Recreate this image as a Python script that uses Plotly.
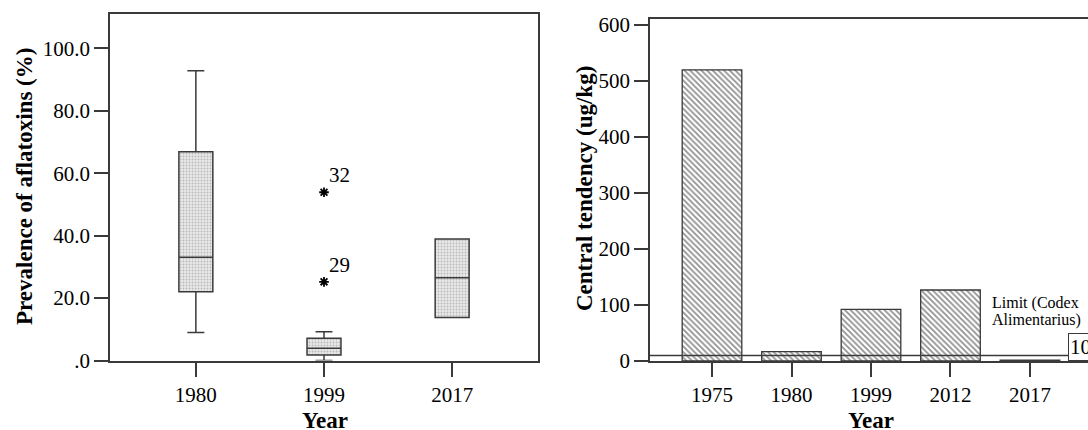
import plotly.graph_objects as go

W, H = 1088, 430

# ---------------- data ----------------
# Left panel: prevalence of aflatoxins (%) box plot summary
box_years = ["1980", "1999", "2017"]
box_q1 = [22.0, 1.8, 13.8]
box_median = [33.1, 3.9, 26.5]
box_q3 = [66.9, 7.1, 38.9]
box_low = [9.0, 0.0, 13.8]
box_high = [92.8, 9.2, 38.9]
outlier_years = ["1999", "1999"]
outlier_values = [25.2, 53.9]
outlier_labels = ["29", "32"]
left_ticks = [0, 20, 40, 60, 80, 100]
left_ticktext = [".0", "20.0", "40.0", "60.0", "80.0", "100.0"]

# Right panel: central tendency (ug/kg)
bar_years = ["1975", "1980", "1999", "2012", "2017"]
bar_values = [520, 16.6, 92.3, 126.8, 1.5]
limit_value = 10
limit_label = "10"
right_ticks = [0, 100, 200, 300, 400, 500, 600]

FONT = "Liberation Serif, Times New Roman, serif"
LC = "#3a3a3a"


def px_x(p):
    return p / W


def px_y(p):
    return 1 - p / H


fig = go.Figure()

# box texture (dotted fill) drawn from the box quartiles
fig.add_trace(go.Bar(
    x=box_years, y=[q3 - q1 for q1, q3 in zip(box_q1, box_q3)], base=box_q1,
    width=0.265, xaxis="x", yaxis="y", showlegend=False, hoverinfo="skip",
    marker=dict(color="#e0e0e0",
                pattern=dict(shape=".", fgcolor="#8a8a8a", bgcolor="#e8e8e8",
                             size=3, solidity=0.3),
                line=dict(width=0)),
))

fig.add_trace(go.Box(
    x=box_years, q1=box_q1, median=box_median, q3=box_q3,
    lowerfence=box_low, upperfence=box_high,
    width=0.265, whiskerwidth=0.5, boxpoints=False,
    fillcolor="rgba(0,0,0,0)", line=dict(color=LC, width=1.5),
    xaxis="x", yaxis="y", showlegend=False,
))

fig.add_trace(go.Scatter(
    x=outlier_years, y=outlier_values, mode="markers",
    marker=dict(symbol="asterisk-open", size=8, color="black",
                line=dict(color="black", width=1.8)),
    xaxis="x", yaxis="y", showlegend=False,
))

for xv, yv, lab in zip(outlier_years, outlier_values, outlier_labels):
    fig.add_annotation(x=box_years.index(xv), y=yv, xref="x", yref="y",
                       text=lab, showarrow=False, xanchor="left",
                       yanchor="middle", xshift=3, yshift=17,
                       font=dict(family=FONT, size=21, color="black"))

# right panel bars
fig.add_trace(go.Bar(
    x=bar_years, y=bar_values, width=0.75, xaxis="x2", yaxis="y2",
    showlegend=False,
    marker=dict(color="white",
                pattern=dict(shape="\\", fgcolor="#222222", bgcolor="white",
                             size=4, solidity=0.45),
                line=dict(color=LC, width=1.3)),
))

# limit reference line
fig.add_shape(type="line", xref="x2", yref="y2", x0=-0.78, x1=4.48,
              y0=limit_value, y1=limit_value, layer="above",
              line=dict(color=LC, width=1.5))
fig.add_annotation(x=4.48, y=0, xref="x2", yref="y2", text=limit_label,
                   showarrow=False, xanchor="left", yanchor="bottom",
                   bgcolor="white", bordercolor=LC, borderwidth=1, borderpad=1,
                   font=dict(family=FONT, size=21, color="black"))
fig.add_annotation(x=px_x(990), y=px_y(303), xref="paper", yref="paper",
                   text="Limit (Codex", showarrow=False, xanchor="left",
                   yanchor="middle", font=dict(family=FONT, size=16, color="black"))
fig.add_annotation(x=px_x(990), y=px_y(320), xref="paper", yref="paper",
                   text="Alimentarius)", showarrow=False, xanchor="left",
                   yanchor="middle", font=dict(family=FONT, size=16, color="black"))

# axis titles
title_font = dict(family=FONT, size=23, color="black", weight="bold")
for tx, ty, txt, ang in [(24, 187, "Prevalence of aflatoxins (%)", -90),
                         (584, 189, "Central tendency (ug/kg)", -90),
                         (325, 420, "Year", 0),
                         (871, 420, "Year", 0)]:
    fig.add_annotation(x=px_x(tx), y=px_y(ty), xref="paper", yref="paper",
                       text=txt, textangle=ang, showarrow=False,
                       xanchor="center", yanchor="middle", font=title_font)

axis_common = dict(showgrid=False, zeroline=False, showline=True,
                   linecolor=LC, linewidth=1.5, ticks="outside",
                   tickcolor=LC, tickwidth=1.5,
                   tickfont=dict(family=FONT, size=21, color="black"))

fig.update_layout(
    width=W, height=H, margin=dict(l=0, r=0, t=0, b=0, autoexpand=False),
    paper_bgcolor="white", plot_bgcolor="white",
    barmode="overlay", showlegend=False,
    xaxis=dict(domain=[px_x(110), px_x(538)], anchor="y", type="category",
               range=[-0.67, 2.67], mirror=True, ticklen=15, **axis_common),
    yaxis=dict(domain=[px_y(360.5), px_y(14)], anchor="x", range=[0, 111],
               tickvals=left_ticks, ticktext=left_ticktext, mirror=True,
               ticklen=14, **axis_common),
    xaxis2=dict(domain=[px_x(650), 1.0], anchor="y2", type="category",
                range=[-0.78, 4.73], mirror=True, ticklen=14, **axis_common),
    yaxis2=dict(domain=[px_y(361), px_y(19)], anchor="x2", range=[0, 610.7],
                tickvals=right_ticks, mirror=False, ticklen=14, **axis_common),
)

fig.write_html(
    "out.html",
    config={"displayModeBar": False},
    post_script="document.body.style.margin='0';"
                "document.body.style.overflow='hidden';",
)
